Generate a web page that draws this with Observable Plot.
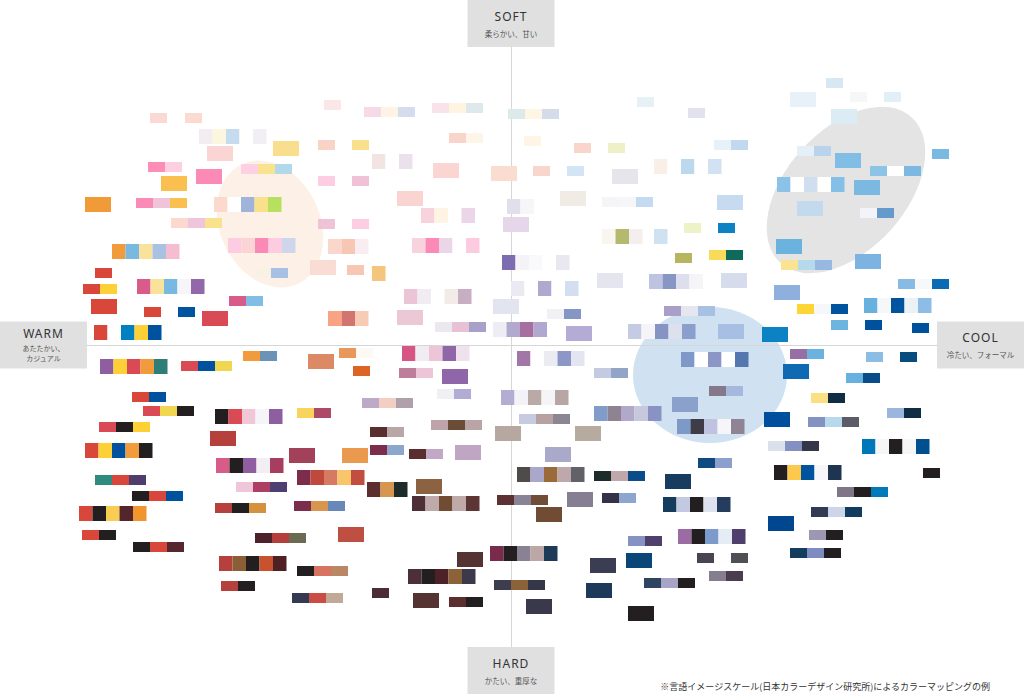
<!DOCTYPE html>
<html>
<head>
<meta charset="utf-8">
<script src="https://cdn.jsdelivr.net/npm/d3@7"></script>
<script src="https://cdn.jsdelivr.net/npm/@observablehq/plot@0.6"></script>
<style>
  html, body { margin: 0; padding: 0; background: #fff; overflow: hidden; }
  #chart svg { display: block; }
</style>
</head>
<body>
<div id="chart"></div>
<script>
// Positions: x = WARM(-) … COOL(+), y = HARD(-) … SOFT(+); each group is [x, y, kind, colours]
// kind: "s" = small 2–3 colour chip, "m" = 5-colour strip chip, "b" = large single chip
const softWarm = [
  [-361, 232, "s", "#fad8d4"],
  [-326, 232, "s", "#fbdbd0"],
  [-312, 216, "m", "#f3ecf0 #fdf6de #c6dbef #ffffff #f1eff4"],
  [-304, 199, "b", "#fad5d3"],
  [-363, 183, "s", "#fb8db7 #fdd0e1"],
  [-350, 169, "b", "#f9c04f"],
  [-315, 176, "b", "#fb8ab7"],
  [-270, 181, "s", "#fdd0e3 #f9e38f #b2d9e9"],
  [-426, 148, "b", "#f19b38"],
  [-375, 147, "s", "#fb8ab7 #efc4d8 #f9c04f"],
  [-297, 148, "m", "#fbd9cc #ffffff #9fb4d8 #f9e08a #b8e060"],
  [-340, 127, "s", "#fbd9cf #efc4dc #f9e28e"],
  [-187, 245, "s", "#fbe6e8"],
  [-147, 238, "s", "#f7dae5 #fef3e4 #d5dcec"],
  [-79, 242, "s", "#f9e2e9 #fef4e0 #dde9ea"],
  [-3, 236, "s", "#dcebe9 #fef6e3 #d4dcec"],
  [-238, 204, "b", "#f9df8d"],
  [-193, 205, "s", "#f9d3c6"],
  [-159, 205, "s", "#f9e08d"],
  [-62, 212, "s", "#f9d4cb #fef5e8"],
  [-139, 191, "m", "#f2e4e2 #ffffff #ebe1ec"],
  [-78, 182, "b", "#fad5d1"],
  [-20, 179, "b", "#fadcd0"],
  [-193, 169, "s", "#fdcee1"],
  [-159, 169, "s", "#efc2d7"],
  [-114, 154, "b", "#f9d4d0"],
  [-90, 137, "m", "#f8d3de #fef4e4 #ffffff #ead6e8"],
  [-193, 126, "s", "#efc2d8"],
  [-159, 126, "s", "#fdcde2"],
  [-8, 128, "b", "#e5d6ea"],
  [-4, 146, "m", "#e2dfed #f6f6f9"],
  [-283, 107, "m", "#fdcbe2 #fbd5d5 #fb89b6 #fdcce1 #cdd6ea"],
  [-399, 101, "m", "#f19b3c #78b9e2 #f9e29a #aac2e2 #f5bed0"],
  [-416, 77, "s", "#d9473a"],
  [-428, 61, "s", "#d9473a #fdd135"],
  [-374, 66, "m", "#d95b8a #f9e29a #78b9e2 #f7f5fa #9368a9"],
  [-420, 46, "b", "#d9473a"],
  [-282, 49, "s", "#d95b8a #82bde6"],
  [-367, 38, "s", "#d9473a #ffffff #00539f"],
  [-309, 34, "b", "#d94a55"],
  [-417, 20, "m", "#d9473a #ffffff #0080c0 #fdd135 #00529f"],
  [-183, 106, "m", "#fad7cb #f8c7b3 #f8eef2"],
  [-99, 107, "m", "#f7d3de #fb8ab6 #ead6e8 #ffffff #fdcbe0"],
  [-257, 77, "s", "#f8f1e4 #a8c0e3"],
  [-201, 85, "b", "#f9dcd4"],
  [-164, 80, "s", "#f8c7b3"],
  [-139, 79, "m", "#f5c57e"],
  [-107, 56, "m", "#ebc4d6 #f0ecf2 #ffffff #f3ece6 #c7aec3"],
  [-18, 46, "b", "#e2e4ef"],
  [-183, 34, "m", "#f9a284 #d3756f #f8ccb4"],
  [-114, 35, "b", "#ecc8d6"],
  [-76, 23, "s", "#ebe8f0 #e8c1d5 #a8a0c8"],
  [-18, 23, "m", "#eeedf3 #b2a9cf #a66fa0 #b1a8d2"],
  [-9, 90, "m", "#7d6db0 #f5f3f7 #f9f8fa #ffffff #e9e8f0"]
];

const softCool = [
  [126, 248, "s", "#e5f1f4"],
  [177, 237, "s", "#e2e1ee"],
  [13, 209, "s", "#fef5e4"],
  [63, 202, "s", "#f9d5cc"],
  [97, 202, "s", "#eef1c8"],
  [203, 205, "s", "#e6f1f8 #c2d8ee"],
  [22, 179, "s", "#f9d6cd"],
  [56, 179, "s", "#d3e4f4"],
  [101, 176, "b", "#e6e5ec"],
  [143, 186, "m", "#f9efe6 #ffffff #bcd8ed #ffffff #d3e2f2"],
  [49, 154, "b", "#f0ebe5"],
  [91, 148, "s", "#f5f5f8 #f6f6f9 #c4daf1"],
  [206, 150, "b", "#c7dbf0"],
  [91, 116, "m", "#f8f6ee #b4b96e #f4eeef"],
  [143, 116, "m", "#cfe2f2"],
  [173, 122, "s", "#eef2c7"],
  [207, 122, "s", "#0a82c4"],
  [315, 267, "s", "#d8e8f3"],
  [279, 253, "b", "#e8f1f8"],
  [339, 253, "s", "#f6f7f9 #ffffff #e3eff7"],
  [320, 236, "b", "#dcecf4"],
  [286, 199, "s", "#e4eff7 #b9d3ec"],
  [324, 192, "b", "#82bde6"],
  [421, 196, "s", "#7ab9e2"],
  [359, 179, "s", "#8cc4e8 #ffffff #7db8e2"],
  [266, 168, "m", "#8bc3e8 #ffffff #cfdff0 #ffffff #83bfe6"],
  [343, 165, "b", "#7bb8e2"],
  [286, 144, "b", "#c3daee"],
  [349, 137, "s", "#f2f4f9 #6699cc"],
  [164, 92, "s", "#b7b55e"],
  [198, 95, "s", "#f9db5a #0e6b5c"],
  [86, 72, "b", "#e4e5ef"],
  [138, 71, "m", "#bdc3e0 #8796c4 #dde0ec #f5f5f8"],
  [210, 72, "b", "#d7dced"],
  [0, 64, "m", "#ebe9f1 #ffffff #b0a8cf #ffffff #d3dff0"],
  [36, 36, "s", "#f1f0f5 #8595c4"],
  [153, 39, "s", "#a9a0c9 #e6e6ef #a6c1e3"],
  [55, 19, "b", "#b4acd4"],
  [117, 21, "m", "#c5cbe2 #f5f5f8 #8594c3 #dde1ee #8a9fcb"],
  [207, 21, "b", "#a6bfe2"],
  [251, 18, "b", "#0a82c4"],
  [265, 106, "b", "#6bb2de"],
  [270, 85, "s", "#fae491 #b7d9ec #97b8e0"],
  [344, 91, "b", "#7db3e0"],
  [387, 66, "s", "#87bbe4 #f7f8fa #0a6ab4"],
  [263, 60, "b", "#8fb0dc"],
  [286, 41, "s", "#fdd535 #f6f7f9 #00549f"],
  [353, 47, "m", "#68b1de #f6f7f9 #00549f #ecf1f6 #8dbde6"],
  [320, 25, "s", "#6db4e0 #ffffff #00519d"],
  [401, 22, "s", "#00519d"]
];

const hardWarm = [
  [-268, -6, "s", "#f19b3c #6b93b5"],
  [-411, -14, "m", "#8f5ea0 #fdd135 #d94a55 #f19b3c #2e7e78"],
  [-330, -16, "s", "#d94a55 #00529f #f1d650"],
  [-379, -47, "s", "#d9473a #00529f"],
  [-368, -61, "s", "#d94a55 #f1d650 #231f20"],
  [-296, -64, "m", "#231f20 #d94a55 #f1c7d8 #f5f4f8 #8f5ea0"],
  [-412, -77, "s", "#d94a55 #231f20 #fdd135"],
  [-301, -86, "b", "#b5403c"],
  [-426, -98, "m", "#d9473a #fdd135 #00529f #f19b3c #231f20"],
  [-295, -113, "m", "#d95b8a #231f20 #8f5ea0 #f3eef4 #a83e5f"],
  [-203, -9, "b", "#dc8a66"],
  [-172, -3, "s", "#e8985a #fdfaf5"],
  [-158, -21, "s", "#dc6425"],
  [-109, -1, "m", "#d65585 #f0ecf2 #ecc5d8 #8f67a8 #efe2ec"],
  [-112, -23, "s", "#bf7d9c #ecc5d6"],
  [-69, -24, "b", "#8f67a8"],
  [-74, -44, "s", "#f0eff4 #b1acd3"],
  [-10, -45, "m", "#b3acd3 #f3f2f6 #b9aaa8 #f5f5f7 #b8a6a4"],
  [-149, -53, "s", "#bcaac7 #f2cfc2 #b0a0ab"],
  [-214, -63, "s", "#f8d45c #ad4a68"],
  [-80, -75, "s", "#bfa3ab #6b4c36 #b9a4a6"],
  [-141, -82, "s", "#5a2d2e #b9a6a6"],
  [-16, -81, "b", "#b6a7a0"],
  [-222, -103, "b", "#a3405a"],
  [-169, -103, "b", "#e99a4f"],
  [-141, -100, "s", "#7c2d4b #8da6cc"],
  [-102, -104, "s", "#5a2d2e #c1a8c5"],
  [-56, -100, "b", "#bfa7c3"],
  [-416, -130, "s", "#2f8a80 #d9473a #4e3d6d"],
  [-379, -146, "s", "#231f20 #d9473a #00529f"],
  [-432, -161, "m", "#d9473a #231f20 #f9cd52 #54252a #f1952e"],
  [-429, -185, "s", "#d9473a #231f20"],
  [-378, -197, "s", "#231f20 #d9473a #54282e"],
  [-275, -137, "s", "#efc6da #ad3e64 #4e3e72"],
  [-296, -158, "s", "#b5403c #231f20 #d6913e"],
  [-256, -188, "s", "#4d2128 #b53d3a #6b6a52"],
  [-292, -211, "m", "#b5403c #8c5e35 #231f20 #c8522d #4e2024"],
  [-290, -236, "s", "#b5403c #231f20"],
  [-214, -125, "m", "#7c2d4b #bf493c #d77a62 #f9c56a #c24d40"],
  [-144, -137, "m", "#5c2e2e #d89550 #1d2b2b"],
  [-95, -134, "b", "#8c6342"],
  [-99, -151, "m", "#4e2f38 #bfaaaa #704c35 #bfaaaa #5c3535"],
  [-14, -150, "s", "#5d3131 #8a8396 #6f4d36"],
  [-217, -156, "s", "#7c2d4b #d89550 #6788b8"],
  [-173, -182, "b", "#be4f42"],
  [-54, -207, "b", "#553333"],
  [-214, -221, "s", "#231f20 #d77361 #b98763"],
  [-103, -224, "m", "#4c2f38 #231f20 #4e2028 #8c6339 #3c3a4a"],
  [-21, -201, "m", "#7a2b4b #231f20 #8a8294 #bca6a6 #1d3a57"],
  [-17, -235, "s", "#3c3e50 #8c6339 #353648"],
  [-219, -248, "s", "#353a52 #c94c45 #c2a896"],
  [-139, -243, "s", "#4c2c38"],
  [-98, -248, "b", "#553333"],
  [-62, -252, "s", "#5c2e2e #231f20"]
];

const hardCool = [
  [6, -6, "m", "#a376a8 #ffffff #ebebf2 #8d97c7 #e3e5f0"],
  [170, -7, "m", "#7e98c7 #ffffff #8c96c6 #ffffff #5577b0"],
  [83, -23, "s", "#c5cae3 #93a5c7"],
  [198, -41, "s", "#85788b #a5b9de"],
  [161, -52, "b", "#8aa2cb"],
  [8, -69, "s", "#c6cbe3 #b8a1a1 #8c8594"],
  [64, -81, "b", "#b7aba0"],
  [83, -61, "m", "#7f9ccb #8d8393 #b2a8c9 #c7c8dd #8893c3"],
  [166, -74, "m", "#7d99c7 #3f3c48 #c0c3e0 #f6f6f9 #8e8494"],
  [34, -102, "b", "#a9a9c9"],
  [187, -113, "s", "#0d4b80 #8d9fcc"],
  [253, -67, "b", "#004f9e"],
  [279, -4, "s", "#9670a4 #6bb2de"],
  [272, -19, "b", "#0e6ab3"],
  [355, -7, "s", "#8bbde5 #ffffff #084b7e"],
  [335, -28, "s", "#68b1de #0a4b8a"],
  [300, -48, "s", "#fae083 #0f2e45"],
  [376, -63, "s", "#9ab6df #0f2e45"],
  [297, -72, "s", "#8392c3 #b7d9ec #5c5c68"],
  [257, -96, "s", "#dcdfec #8390c1 #353648"],
  [351, -94, "m", "#0077b9 #f6f6f9 #231f20 #f6f6f9 #004f8e"],
  [263, -120, "m", "#231f20 #fdc94d #00539f #f6f6f9 #1d3550"],
  [412, -123, "s", "#231f20"],
  [326, -142, "s", "#7f7687 #231f20 #007ab8"],
  [300, -162, "s", "#333a53 #ccd6e8 #113c5f"],
  [257, -171, "b", "#00478f"],
  [298, -185, "s", "#9e97b2 #231f20"],
  [279, -203, "s", "#143d5e #7f8cc0 #231f20"],
  [6, -122, "m", "#4f4b4b #a9a8cc #9a6a3a #bfa8ab #626168"],
  [83, -126, "s", "#1d2b2b #bfa8ab #0a4d88"],
  [154, -129, "b", "#173c5f"],
  [56, -147, "b", "#867e93"],
  [91, -148, "s", "#353247 #8da5cf"],
  [152, -152, "m", "#143c5c #c4c9e2 #231f20 #dfe3f0 #243c5e"],
  [25, -162, "b", "#704c35"],
  [117, -191, "s", "#8592c3 #4e3f6d"],
  [167, -184, "m", "#9a6ca3 #231f20 #7c9bcb #e6ecf3 #4e3f6d"],
  [79, -213, "b", "#3b3d52"],
  [115, -208, "b", "#0a4677"],
  [186, -208, "s", "#4a4351 #ffffff #4f4f56"],
  [198, -226, "s", "#857e8e #4a3d50"],
  [133, -233, "s", "#2d4560 #a8a4c8 #231f20"],
  [75, -238, "b", "#1d3a5b"],
  [15, -254, "b", "#3a394b"],
  [117, -261, "b", "#231f20"]
];

// Highlighted image zones (centre, radii, tilt)
const zones = [
  {x: -241, y: 121, rx: 50, ry: 66, angle: -25},
  {x: 335, y: 155, rx: 98, ry: 60, angle: -48},
  {x: 199, y: -30, rx: 77, ry: 68, angle: 0}
];
const zoneFills = ["#fdf0e6", "#e4e4e4", "#d0e1f2"];

const poles = [
  {label: "SOFT", sub: ["柔らかい、甘い"], side: "top"},
  {label: "HARD", sub: ["かたい、重厚な"], side: "bottom"},
  {label: "WARM", sub: ["あたたかい、", "カジュアル"], side: "left"},
  {label: "COOL", sub: ["冷たい、フォーマル"], side: "right"}
];
const caption = "※言語イメージスケール(日本カラーデザイン研究所)によるカラーマッピングの例";

// ---- build
const chipSize = {s: [17, 10], m: [13.5, 15], b: [26, 15]};
const groups = [...softWarm, ...softCool, ...hardWarm, ...hardCool];
const cells = groups.flatMap(([x, y, kind, colors]) => {
  const [w, h] = chipSize[kind];
  return colors.split(" ").map((fill, i) => ({
    x1: x + i * w, x2: x + (i + 1) * w, y1: y, y2: y - h, fill
  }));
});

const FONT = "'Noto Sans', 'Noto Sans CJK JP', sans-serif";
const JP = "'Noto Sans CJK JP', sans-serif";

function zoneMark(index, scales) {
  const g = d3.create("svg:g");
  zones.forEach((z, i) => {
    const cx = scales.x(z.x), cy = scales.y(z.y);
    const rx = Math.abs(scales.x(z.x + z.rx) - cx);
    const ry = Math.abs(scales.y(z.y + z.ry) - cy);
    g.append("ellipse")
      .attr("cx", cx).attr("cy", cy).attr("rx", rx).attr("ry", ry)
      .attr("transform", `rotate(${z.angle} ${cx} ${cy})`)
      .attr("fill", zoneFills[i]);
  });
  return g.node();
}

function poleMark(index, scales, values, dim) {
  const g = d3.create("svg:g");
  const W = 87, H = 47;
  const x0 = scales.x(0), y0 = scales.y(0);
  for (const p of poles) {
    let bx, by;
    if (p.side === "top") { bx = x0 - W / 2; by = 0; }
    else if (p.side === "bottom") { bx = x0 - W / 2; by = dim.height - H; }
    else if (p.side === "left") { bx = 0; by = y0 - H / 2; }
    else { bx = dim.width - W; by = y0 - H / 2; }
    g.append("rect").attr("x", bx).attr("y", by).attr("width", W).attr("height", H).attr("fill", "#e0e0e0");
    const two = p.sub.length > 1;
    g.append("text")
      .attr("x", bx + W / 2).attr("y", by + (two ? 11.5 : 16))
      .attr("text-anchor", "middle").attr("dominant-baseline", "central")
      .attr("font-family", FONT).attr("font-size", 12).attr("letter-spacing", 1)
      .attr("fill", "#333").text(p.label);
    p.sub.forEach((s, i) => {
      g.append("text")
        .attr("x", bx + W / 2).attr("y", by + (two ? 26.5 + i * 9.5 : 33))
        .attr("text-anchor", "middle").attr("dominant-baseline", "central")
        .attr("font-family", JP).attr("font-size", two ? 7 : 7.5)
        .attr("fill", "#555").text(s);
    });
  }
  g.append("text")
    .attr("x", dim.width - 34).attr("y", dim.height - 8)
    .attr("text-anchor", "end").attr("dominant-baseline", "central")
    .attr("font-family", JP).attr("font-size", 9)
    .attr("fill", "#333").text(caption);
  return g.node();
}

const chart = Plot.plot({
  width: 1024,
  height: 694,
  margin: 0,
  x: {domain: [-511, 513], axis: null},
  y: {domain: [-349, 345], axis: null},
  color: {type: "identity"},
  marks: [
    zoneMark,
    Plot.ruleY([0], {stroke: "#d6d6d6", strokeWidth: 1}),
    Plot.ruleX([0], {stroke: "#d6d6d6", strokeWidth: 1}),
    Plot.rect(cells, {x1: "x1", x2: "x2", y1: "y1", y2: "y2", fill: "fill"}),
    poleMark
  ]
});
document.getElementById("chart").appendChild(chart);
</script>
</body>
</html>
